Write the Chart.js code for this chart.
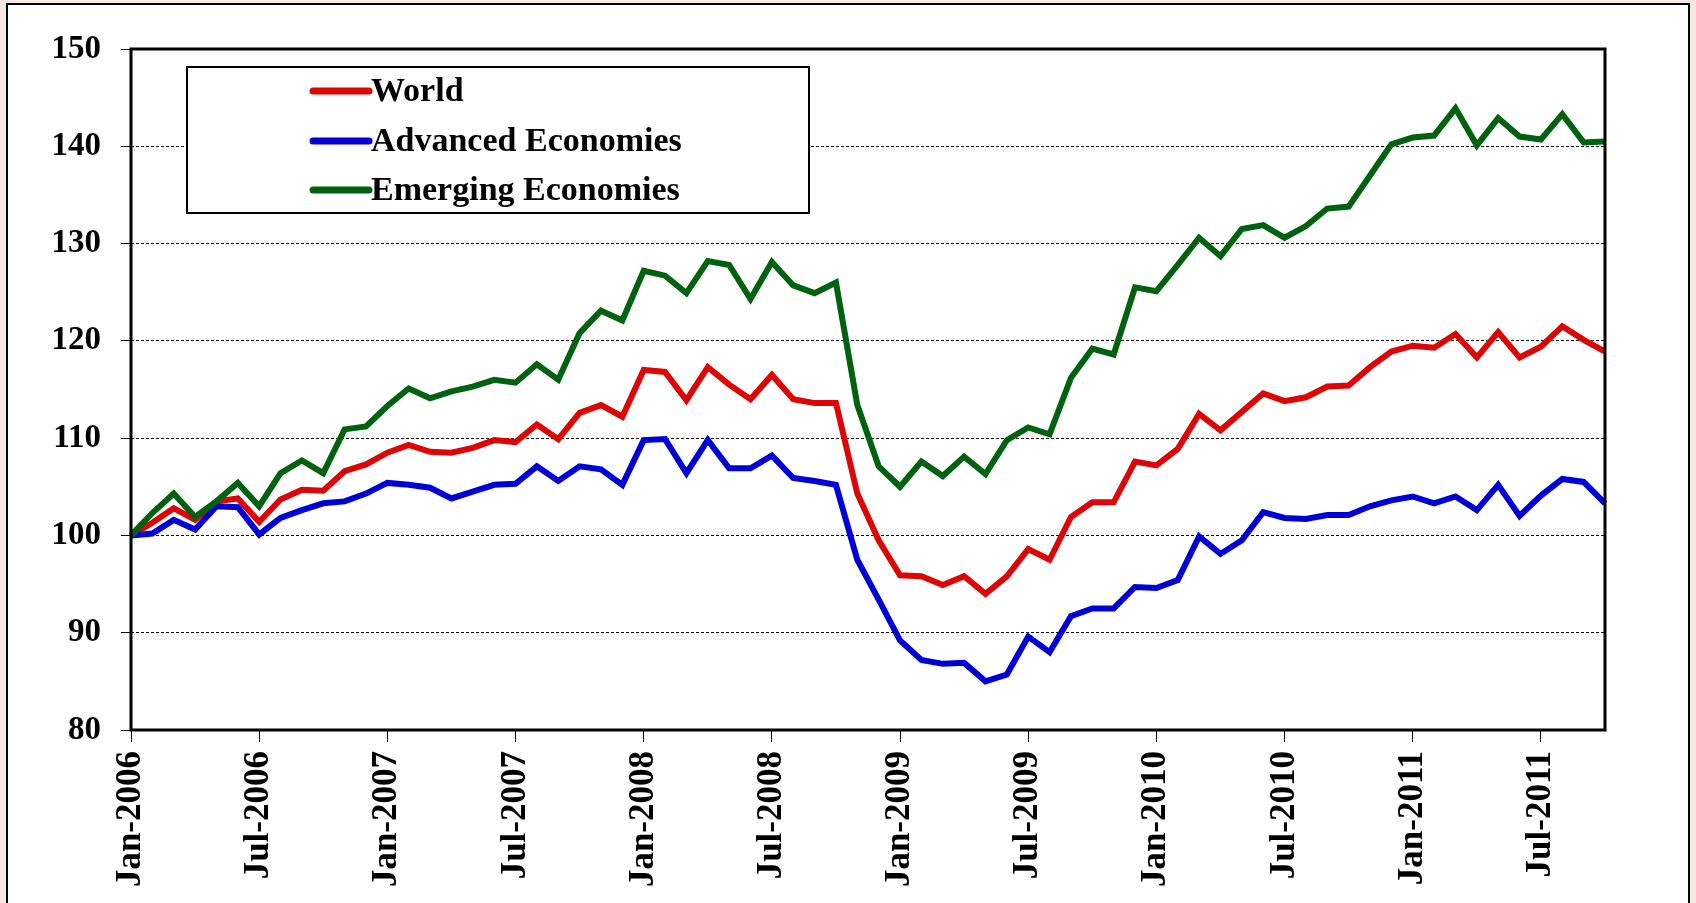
<!DOCTYPE html>
<html>
<head>
<meta charset="utf-8">
<script src="https://cdn.jsdelivr.net/npm/chart.js@4.4.1/dist/chart.umd.min.js"></script>
<style>
  html, body { margin: 0; padding: 0; background: #f3e8e5; }
  #wrap { width: 1696px; height: 903px; position: relative; }
</style>
</head>
<body>
<div id="wrap"><canvas id="indexChart"></canvas></div>
<script>
// monthly index, Jan-2006 = 100
const monthNames = ["Jan", "Feb", "Mar", "Apr", "May", "Jun", "Jul", "Aug", "Sep", "Oct", "Nov", "Dec"];
const years = [2006, 2007, 2008, 2009, 2010, 2011];
const lastMonth = 10; // data ends Oct-2011

const world = [
  100, 101.3, 102.8, 101.6, 103.5, 103.8, 101.4, 103.7, 104.7, 104.6, 106.6, 107.3,
  108.5, 109.3, 108.6, 108.5, 109.0, 109.8, 109.6, 111.4, 109.9, 112.6, 113.4, 112.2,
  117.0, 116.8, 113.9, 117.3, 115.5, 114.0, 116.5, 114.0, 113.6, 113.6, 104.3, 99.5,
  95.9, 95.8, 94.9, 95.8, 94.0, 95.8, 98.6, 97.5, 101.9, 103.4, 103.4, 107.6,
  107.2, 108.9, 112.5, 110.8, 112.7, 114.6, 113.8, 114.2, 115.3, 115.4, 117.3, 118.9,
  119.5, 119.3, 120.7, 118.3, 120.9, 118.3, 119.4, 121.5, 120.1, 118.9
];
const advanced = [
  100, 100.2, 101.6, 100.6, 103.0, 102.9, 100.1, 101.8, 102.6, 103.3, 103.5, 104.3,
  105.4, 105.2, 104.9, 103.8, 104.5, 105.2, 105.3, 107.1, 105.6, 107.1, 106.8, 105.2,
  109.8, 109.9, 106.4, 109.8, 106.9, 106.9, 108.2, 105.9, 105.6, 105.2, 97.5, 93.4,
  89.2, 87.2, 86.8, 86.9, 85.0, 85.7, 89.6, 88.0, 91.7, 92.5, 92.5, 94.7,
  94.6, 95.4, 99.9, 98.1, 99.5, 102.4, 101.8, 101.7, 102.1, 102.1, 103.0, 103.6,
  104.0, 103.3, 104.0, 102.6, 105.2, 102.0, 104.1, 105.8, 105.5, 103.3
];
const emerging = [
  100, 102.3, 104.3, 101.9, 103.5, 105.4, 103.0, 106.4, 107.7, 106.4, 110.9, 111.2,
  113.3, 115.1, 114.1, 114.8, 115.3, 116.0, 115.7, 117.6, 116.0, 120.8, 123.1, 122.1,
  127.2, 126.7, 124.9, 128.2, 127.8, 124.3, 128.1, 125.7, 124.9, 126.0, 113.4, 107.1,
  105.0, 107.6, 106.1, 108.1, 106.3, 109.8, 111.1, 110.4, 116.2, 119.2, 118.6, 125.5,
  125.1, 127.8, 130.6, 128.7, 131.5, 131.9, 130.6, 131.8, 133.6, 133.8, 137.0, 140.2,
  140.9, 141.1, 143.9, 140.1, 142.9, 141.0, 140.7, 143.3, 140.4, 140.5
];

const labels = [];
years.forEach((y) => {
  monthNames.forEach((m, mi) => {
    if (y === 2011 && mi >= lastMonth) return;
    labels.push(m + "-" + y);
  });
});

const serif = "'Liberation Serif', 'Times New Roman', serif";

// page frame + plot border + boxed legend
const framePlugin = {
  id: "frame",
  beforeDraw(chart) {
    const c = chart.ctx;
    c.save();
    c.fillStyle = "#f3e8e5";
    c.fillRect(0, 0, chart.width, chart.height);
    c.fillStyle = "#ffffff";
    c.fillRect(7, 4, 1682, 910);
    c.strokeStyle = "#000";
    c.lineWidth = 2;
    c.strokeRect(7, 4, 1682, 910);
    c.restore();
  },
  afterDatasetsDraw(chart) {
    const c = chart.ctx;
    const a = chart.chartArea;
    c.save();
    c.strokeStyle = "#000";
    c.lineWidth = 3;
    c.strokeRect(a.left, a.top, a.right - a.left, a.bottom - a.top);

    // legend box
    c.fillStyle = "#fff";
    c.fillRect(187, 67, 622, 146);
    c.lineWidth = 2;
    c.strokeRect(187, 67, 622, 146);
    const rows = [91, 141, 190];
    chart.data.datasets.forEach((ds, i) => {
      c.strokeStyle = ds.borderColor;
      c.lineWidth = 7;
      c.lineCap = "round";
      c.beginPath();
      c.moveTo(313, rows[i]);
      c.lineTo(369, rows[i]);
      c.stroke();
      c.fillStyle = "#000";
      c.font = "bold 34px " + serif;
      c.textAlign = "left";
      c.textBaseline = "middle";
      c.fillText(ds.label, 371, rows[i] + 1);
    });
    c.restore();
  }
};

const ctx = document.getElementById("indexChart").getContext("2d");
new Chart(ctx, {
  type: "line",
  data: {
    labels: labels,
    datasets: [
      { label: "World", data: world, borderColor: "#dd0606", order: 3 },
      { label: "Advanced Economies", data: advanced, borderColor: "#0000d6", order: 2 },
      { label: "Emerging Economies", data: emerging, borderColor: "#00620f", order: 1 }
    ]
  },
  options: {
    responsive: true,
    maintainAspectRatio: false,
    animation: false,
    devicePixelRatio: 1,
    layout: { padding: { left: 0, top: 49, right: 91, bottom: 0 } },
    elements: {
      line: { borderWidth: 6, tension: 0, fill: false },
      point: { radius: 0, hoverRadius: 0 }
    },
    plugins: {
      legend: { display: false },
      tooltip: { enabled: false }
    },
    scales: {
      x: {
        offset: false,
        grid: {
          drawOnChartArea: false,
          tickLength: 12,
          lineWidth: 1,
          color: (c) => (c.index % 6 === 0 ? "#000" : "rgba(0,0,0,0)")
        },
        border: { display: false },
        ticks: {
          autoSkip: false,
          minRotation: 90,
          maxRotation: 90,
          padding: 9,
          color: "#000",
          font: { family: serif, size: 35, weight: "bold" },
          callback: (v, i) => (i % 6 === 0 ? labels[i] : "")
        },
        afterFit: (scale) => { scale.height = 173; }
      },
      y: {
        min: 80,
        max: 150,
        grid: {
          color: "#000",
          lineWidth: 1,
          tickLength: 10,
          tickBorderDash: [],
          borderDash: [3, 2]
        },
        border: { display: false, dash: [3, 2] },
        ticks: {
          stepSize: 10,
          padding: 20,
          color: "#000",
          font: { family: serif, size: 33, weight: "bold" }
        },
        afterFit: (scale) => { scale.width = 131; }
      }
    }
  },
  plugins: [framePlugin]
});
</script>
</body>
</html>
